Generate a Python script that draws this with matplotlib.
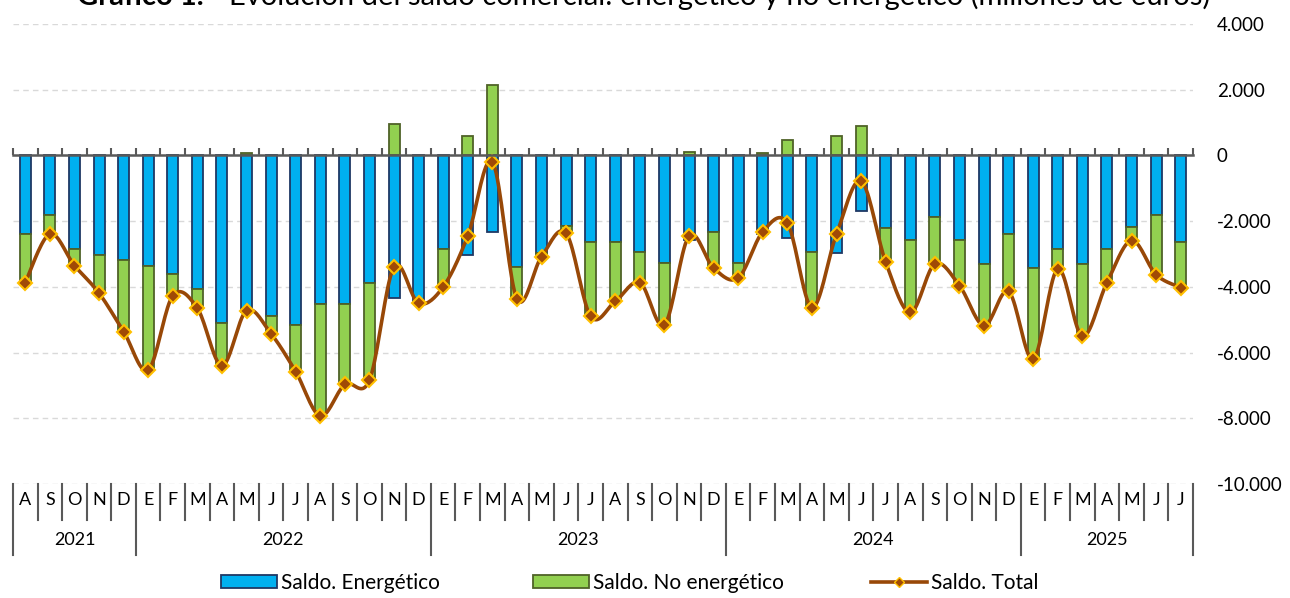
import numpy as np
import matplotlib
matplotlib.use("Agg")
import matplotlib.pyplot as plt
from matplotlib.lines import Line2D
from matplotlib.patches import Patch

plt.rcParams['font.family'] = ['Lato', 'DejaVu Sans']

# datos: saldo comercial (millones de euros), ago 2021 - jul 2025
meses = ['A', 'S', 'O', 'N', 'D',
         'E', 'F', 'M', 'A', 'M', 'J', 'J', 'A', 'S', 'O', 'N', 'D',
         'E', 'F', 'M', 'A', 'M', 'J', 'J', 'A', 'S', 'O', 'N', 'D',
         'E', 'F', 'M', 'A', 'M', 'J', 'J', 'A', 'S', 'O', 'N', 'D',
         'E', 'F', 'M', 'A', 'M', 'J', 'J']
anios = ['2021', '2022', '2023', '2024', '2025']
meses_por_anio = [5, 12, 12, 12, 7]

energetico = [-2390, -1820, -2840, -3020, -3170,
              -3360, -3610, -4070, -5110, -4780, -4900, -5160, -4520, -4520, -3870, -4340, -4450,
              -2840, -3030, -2330, -3410, -2980, -2150, -2640, -2640, -2950, -3280, -2560, -2330,
              -3280, -2380, -2520, -2950, -2970, -1690, -2210, -2580, -1870, -2580, -3300, -2390,
              -3430, -2850, -3300, -2850, -2190, -1820, -2640]
no_energetico = [-1480, -570, -510, -1170, -2190,
                 -3170, -660, -580, -1290, 60, -530, -1420, -3410, -2450, -2970, 950, -50,
                 -1160, 580, 2140, -960, -100, -220, -2260, -1800, -920, -1880, 110, -1100,
                 -450, 60, 460, -1680, 580, 910, -1040, -2200, -1430, -1380, -1880, -1750,
                 -2770, -600, -2210, -1020, -400, -1810, -1380]

energetico = np.array(energetico)
no_energetico = np.array(no_energetico)
total = energetico + no_energetico
x = np.arange(len(meses))

# linea suavizada tipo Excel (bezier con puntos de control vecinos)
def suavizar(xs, ys, n=20):
    px = np.concatenate([[xs[0]], xs, [xs[-1]]])
    py = np.concatenate([[ys[0]], ys, [ys[-1]]])
    out_x, out_y = [], []
    t = np.linspace(0, 1, n)
    for i in range(1, len(px) - 2):
        p0 = np.array([px[i], py[i]])
        p3 = np.array([px[i + 1], py[i + 1]])
        c1 = p0 + (np.array([px[i + 1], py[i + 1]]) - np.array([px[i - 1], py[i - 1]])) / 6
        c2 = p3 - (np.array([px[i + 2], py[i + 2]]) - np.array([px[i], py[i]])) / 6
        b = ((1 - t) ** 3)[:, None] * p0 + (3 * (1 - t) ** 2 * t)[:, None] * c1 \
            + (3 * (1 - t) * t ** 2)[:, None] * c2 + (t ** 3)[:, None] * p3
        out_x.extend(b[:, 0])
        out_y.extend(b[:, 1])
    return out_x, out_y

fig = plt.figure(figsize=(12.9, 5.98), dpi=100)
ax = fig.add_axes([13 / 1290, 1 - 484 / 598, 1180 / 1290, 460 / 598])

azul = '#00B0F0'
verde = '#92D050'
marron = '#984807'

ax.bar(x, energetico, width=0.45, color=azul, edgecolor='#1F3864', linewidth=1.3, zorder=3)
base = np.where(no_energetico < 0, energetico, 0)
ax.bar(x, no_energetico, bottom=base, width=0.45, color=verde, edgecolor='#4F6228',
       linewidth=1.3, zorder=3)

sx, sy = suavizar(x.astype(float), total.astype(float))
ax.plot(sx, sy, color=marron, lw=2.6, zorder=4, solid_capstyle='round')
ax.plot(x, total, ls='none', marker='D', markersize=7.5, markerfacecolor='#A04A06',
        markeredgecolor='#FFC000', markeredgewidth=1.5, zorder=5)

ax.set_xlim(-0.5, len(meses) - 0.5)
ax.set_ylim(-10000, 4000)
ax.set_yticks(np.arange(-10000, 4001, 2000))
ax.set_yticklabels([f"{v:,.0f}".replace(",", ".") for v in np.arange(-10000, 4001, 2000)])
ax.yaxis.tick_right()
ax.tick_params(axis='y', length=0, pad=17, labelsize=13.5, labelcolor='#000000')
ax.yaxis.grid(True, color='#D9D9D9', lw=1, ls=(0, (4, 3)), zorder=0)

for s in ['top', 'left', 'right']:
    ax.spines[s].set_visible(False)
ax.spines['bottom'].set_position(('data', 0))
ax.spines['bottom'].set_color('#595959')
ax.spines['bottom'].set_linewidth(1.8)
ax.spines['bottom'].set_zorder(6)
ax.set_xticks(np.arange(-0.5, len(meses), 1))
ax.tick_params(axis='x', direction='in', length=5, width=1.5, color='#595959',
               labelbottom=False)

# etiquetas de categorias en dos niveles
tr = ax.get_xaxis_transform()
h = 460.0
for i, m in enumerate(meses):
    ax.text(i, -16 / h, m, transform=tr, ha='center', va='center', fontsize=13, clip_on=False)
inicio = 0
for k, a in enumerate(anios):
    fin = inicio + meses_por_anio[k]
    ax.text((inicio + fin - 1) / 2, -56 / h, a, transform=tr, ha='center', va='center',
            fontsize=13, clip_on=False)
    inicio = fin
limites = np.cumsum([0] + meses_por_anio)
for b in range(len(meses) + 1):
    largo = 71 if b in limites else 36
    ax.plot([b - 0.5, b - 0.5], [0, -largo / h], transform=tr, color='#595959', lw=1.5,
            clip_on=False)

# leyenda
ley_y = 1 - 583 / 598
opts = dict(loc='center left', frameon=False, fontsize=15, handlelength=2.7,
            handletextpad=0.2, borderpad=0, borderaxespad=0)
fig.legend(handles=[Patch(facecolor=azul, edgecolor='#1F3864', linewidth=1.3)],
           labels=['Saldo. Energético'], bbox_to_anchor=(221 / 1290, ley_y),
           handleheight=0.55, **opts)
fig.legend(handles=[Patch(facecolor=verde, edgecolor='#4F6228', linewidth=1.3)],
           labels=['Saldo. No energético'], bbox_to_anchor=(533 / 1290, ley_y),
           handleheight=0.55, **opts)
fig.legend(handles=[Line2D([], [], color=marron, lw=2.6, marker='D', markersize=5,
                           markerfacecolor='#A04A06', markeredgecolor='#FFC000')],
           labels=['Saldo. Total'], bbox_to_anchor=(871 / 1290, ley_y), **opts)

# titulo, cortado por arriba como en el original
fig.text(77 / 1290, 1 - 5 / 598, 'Gráfico 1.', fontsize=21, fontweight='bold', va='baseline')
fig.text(229 / 1290, 1 - 5 / 598,
         'Evolución del saldo comercial: energético y no energético (millones de euros)',
         fontsize=21, va='baseline')

fig.savefig('out.png', dpi=100)
